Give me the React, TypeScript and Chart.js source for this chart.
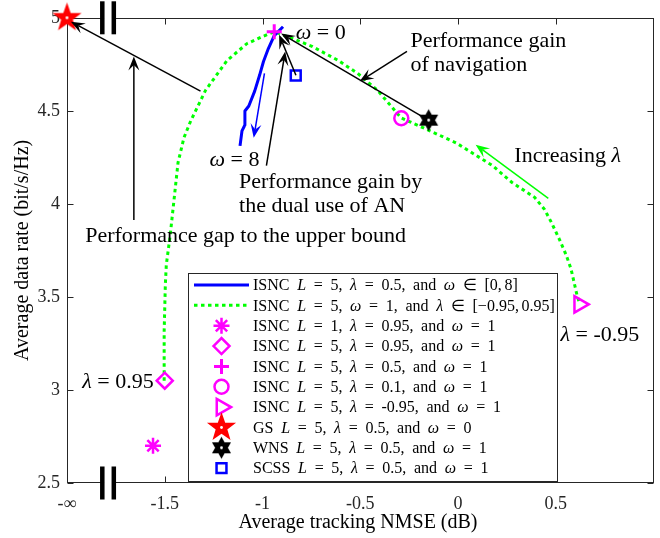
import React, { useEffect, useRef } from 'react';
import { Chart, registerables } from 'chart.js';
import { drawPoint } from 'chart.js/helpers';

Chart.register(...registerables);

const SERIF = '"Liberation Serif", "Times New Roman", Times, serif';
const MAGENTA = '#ff00ff';
const AXIS = '#262626';

// ISNC, L = 5, λ = 0.5, ω swept from 0 to 8 (NMSE in dB, rate in bit/s/Hz)
const omegaSweepNmse = [-0.895, -0.94, -0.97, -0.995, -1.015, -1.04, -1.07, -1.09, -1.09, -1.105, -1.115];
const omegaSweepRate = [4.952, 4.904, 4.835, 4.765, 4.691, 4.606, 4.526, 4.499, 4.424, 4.392, 4.312];

// ISNC, L = 5, ω = 1, λ swept from 0.95 down to -0.95
const lambdaSweepNmse = [
  -1.503, -1.503, -1.497, -1.492, -1.472, -1.432, -1.402, -1.367, -1.291, -1.181, -1.08, -1.0, -0.94,
  -0.844, -0.744, -0.613, -0.513, -0.412, -0.291, -0.176, -0.01, 0.176, 0.276, 0.392, 0.442, 0.477,
  0.518, 0.553, 0.578, 0.593, 0.608, 0.623,
];
const lambdaSweepRate = [
  3.049, 3.316, 3.566, 3.673, 3.833, 4.222, 4.355, 4.446, 4.611, 4.771, 4.861, 4.899, 4.925,
  4.888, 4.845, 4.771, 4.701, 4.611, 4.462, 4.408, 4.328, 4.206, 4.115, 4.035, 3.971, 3.902,
  3.811, 3.726, 3.651, 3.582, 3.513, 3.459,
];

// Single operating points: ISNC variants, then the GS, WNS and SCSS baselines
const schemeNmse = [-1.56, -1.5, -0.94, -0.29, 0.62, -2.0, -0.15, -0.83];
const schemeRate = [2.7, 3.05, 4.925, 4.46, 3.46, 5.0, 4.45, 4.69];

// Legend text; $...$ marks italic math symbols, \u2009 is a thin math space
const seriesLabels = [
  'ISNC $L$ = 5, $λ$ = 0.5, and $ω$ ∈ [0,\u20098]',
  'ISNC $L$ = 5, $ω$ = 1, and $λ$ ∈ [−0.95,\u20090.95]',
  'ISNC $L$ = 1, $λ$ = 0.95, and $ω$ = 1',
  'ISNC $L$ = 5, $λ$ = 0.95, and $ω$ = 1',
  'ISNC $L$ = 5, $λ$ = 0.5, and $ω$ = 1',
  'ISNC $L$ = 5, $λ$ = 0.1, and $ω$ = 1',
  'ISNC $L$ = 5, $λ$ = -0.95, and $ω$ = 1',
  'GS $L$ = 5, $λ$ = 0.5, and $ω$ = 0',
  'WNS $L$ = 5, $λ$ = 0.5, and $ω$ = 1',
  'SCSS $L$ = 5, $λ$ = 0.5, and $ω$ = 1',
];

const xTickValues = [-2, -1.5, -1, -0.5, 0, 0.5];
const xTickLabels = ['-∞', '-1.5', '-1', '-0.5', '0', '0.5'];
const yTickValues = [2.5, 3, 3.5, 4, 4.5, 5];
const yTickLabels = ['2.5', '3', '3.5', '4', '4.5', '5'];

const xTitle = 'Average tracking NMSE (dB)';
const yTitle = 'Average data rate (bit/s/Hz)';

// Text annotations in data coordinates (left end of the baseline)
const notes = [
  { text: '$ω$ = 0', x: -0.83, y: 4.888 },
  { text: '$ω$ = 8', x: -1.271, y: 4.206 },
  { text: 'Performance gain by', x: -1.12, y: 4.088 },
  { text: 'the dual use of AN', x: -1.12, y: 3.955 },
  { text: 'Performance gap to the upper bound', x: -1.907, y: 3.795 },
  { text: 'Performance gain', x: -0.243, y: 4.845 },
  { text: 'of navigation', x: -0.243, y: 4.712 },
  { text: 'Increasing $λ$', x: 0.288, y: 4.227 },
  { text: '$λ$ = 0.95', x: -1.922, y: 3.012 },
  { text: '$λ$ = -0.95', x: 0.524, y: 3.262 },
];

// Annotation arrows in data coordinates, head at the "to" end
const arrows = [
  { from: [-0.829, 4.691], to: [-0.915, 4.909], color: '#000000' },
  { from: [-0.98, 4.206], to: [-0.884, 4.819], color: '#000000' },
  { from: [-0.161, 4.456], to: [-0.905, 4.915], color: '#000000' },
  { from: [-0.261, 4.819], to: [-0.503, 4.659], color: '#000000' },
  { from: [-1.317, 4.606], to: [-1.98, 4.979], color: '#000000' },
  { from: [-1.658, 3.913], to: [-1.658, 4.792], color: '#000000' },
  { from: [-0.99, 4.701], to: [-1.045, 4.355], color: '#0000ff' },
  { from: [0.462, 4.03], to: [0.09, 4.318], color: '#00ff00' },
];

// x position of the axis break between -∞ and the finite range
const axisBreakAt = -1.79;

function serif(size: number, italic: boolean) {
  return `${italic ? 'italic ' : ''}${size}px ${SERIF}`;
}

// Draws text with $italic$ segments; spaceEm widens the blanks (math-style spacing)
function drawRich(
  ctx: CanvasRenderingContext2D,
  markup: string,
  x: number,
  y: number,
  size: number,
  spaceEm?: number,
) {
  const parts = markup.split('$');
  let cx = x;
  parts.forEach((p, i) => {
    if (!p) return;
    ctx.font = serif(size, i % 2 === 1);
    if (spaceEm === undefined) {
      ctx.fillText(p, cx, y);
      cx += ctx.measureText(p).width;
      return;
    }
    const words = p.split(' ');
    words.forEach((w, k) => {
      if (k > 0) cx += spaceEm * size;
      if (!w) return;
      const pieces = w.split('\u2009');
      pieces.forEach((piece, j) => {
        if (j > 0) cx += 0.17 * size;
        if (!piece) return;
        ctx.fillText(piece, cx, y);
        cx += ctx.measureText(piece).width;
      });
    });
  });
}

function makeStar(points: number, outer: number, inner: number, color: string, lw: number) {
  const size = Math.ceil(outer * 2 + lw * 3);
  const c = document.createElement('canvas');
  c.width = size;
  c.height = size;
  const g = c.getContext('2d')!;
  const cx = size / 2;
  const cy = size / 2;
  g.beginPath();
  for (let k = 0; k < points * 2; k++) {
    const r = k % 2 === 0 ? outer : inner;
    const a = -Math.PI / 2 + (k * Math.PI) / points;
    const px = cx + r * Math.cos(a);
    const py = cy + r * Math.sin(a);
    if (k === 0) g.moveTo(px, py);
    else g.lineTo(px, py);
  }
  g.closePath();
  g.lineJoin = 'miter';
  g.lineWidth = lw;
  g.strokeStyle = color;
  g.fillStyle = color;
  g.fill();
  g.stroke();
  // the thick outline leaves only a small hollow in the middle
  g.fillStyle = '#ffffff';
  g.beginPath();
  g.arc(cx, cy, 1.4, 0, Math.PI * 2);
  g.fill();
  return c;
}

function drawArrow(ctx: CanvasRenderingContext2D, x1: number, y1: number, x2: number, y2: number, color: string) {
  const a = Math.atan2(y2 - y1, x2 - x1);
  const len = 14;
  const half = 5.5;
  const notch = len * 0.6;
  const cos = Math.cos(a);
  const sin = Math.sin(a);
  ctx.save();
  ctx.strokeStyle = color;
  ctx.fillStyle = color;
  ctx.lineWidth = 1.5;
  ctx.beginPath();
  ctx.moveTo(x1, y1);
  ctx.lineTo(x2 - cos * notch, y2 - sin * notch);
  ctx.stroke();
  const bx = x2 - cos * len;
  const by = y2 - sin * len;
  ctx.beginPath();
  ctx.moveTo(x2, y2);
  ctx.lineTo(bx - sin * half, by + cos * half);
  ctx.lineTo(x2 - cos * notch, y2 - sin * notch);
  ctx.lineTo(bx + sin * half, by - cos * half);
  ctx.closePath();
  ctx.fill();
  ctx.restore();
}

const decorPlugin = {
  id: 'figureDecor',
  beforeDatasetsDraw(chart: any) {
    const { ctx, chartArea: a } = chart;
    const xs = chart.scales.x;
    const ys = chart.scales.y;
    ctx.save();
    ctx.strokeStyle = AXIS;
    ctx.lineWidth = 1;
    const L = Math.round(a.left) + 0.5;
    const R = Math.round(a.right) - 0.5;
    const T = Math.round(a.top) + 0.5;
    const B = Math.round(a.bottom) - 0.5;
    ctx.strokeRect(L, T, R - L, B - T);
    const tl = 6;
    ctx.beginPath();
    xTickValues.forEach((v) => {
      const p = Math.round(xs.getPixelForValue(v)) + 0.5;
      ctx.moveTo(p, B);
      ctx.lineTo(p, B - tl);
      ctx.moveTo(p, T);
      ctx.lineTo(p, T + tl);
    });
    yTickValues.forEach((v) => {
      const p = Math.round(ys.getPixelForValue(v)) + 0.5;
      ctx.moveTo(L, p);
      ctx.lineTo(L + tl, p);
      ctx.moveTo(R, p);
      ctx.lineTo(R - tl, p);
    });
    ctx.stroke();
    ctx.restore();
  },
  afterDatasetsDraw(chart: any) {
    const { ctx, chartArea: a } = chart;
    const xs = chart.scales.x;
    const ys = chart.scales.y;
    const px = (v: number) => xs.getPixelForValue(v);
    const py = (v: number) => ys.getPixelForValue(v);

    ctx.save();
    // arrows
    arrows.forEach((ar) => {
      drawArrow(ctx, px(ar.from[0]), py(ar.from[1]), px(ar.to[0]), py(ar.to[1]), ar.color);
    });

    // annotation text
    ctx.fillStyle = '#000';
    ctx.textBaseline = 'alphabetic';
    ctx.textAlign = 'left';
    notes.forEach((n) => drawRich(ctx, n.text, px(n.x), py(n.y), 22));

    // axis break marks on the top and bottom edges
    const bx = px(axisBreakAt);
    [a.top, a.bottom].forEach((ey) => {
      ctx.fillStyle = '#ffffff';
      ctx.fillRect(bx - 4, ey - 2, 8, 4);
      ctx.fillStyle = '#000000';
      ctx.fillRect(bx - 8, ey - 16.5, 4.5, 33);
      ctx.fillRect(bx + 3.5, ey - 16.5, 4.5, 33);
    });

    // legend box
    const lx0 = 188.5;
    const ly0 = 273.5;
    const lx1 = 557.5;
    const ly1 = Math.round(a.bottom) - 1.5;
    ctx.fillStyle = '#ffffff';
    ctx.fillRect(lx0, ly0, lx1 - lx0, ly1 - ly0);
    ctx.strokeStyle = AXIS;
    ctx.lineWidth = 1;
    ctx.strokeRect(lx0, ly0, lx1 - lx0, ly1 - ly0);

    const rowY0 = 285;
    const rowStep = 20.35;
    const sampleL = 194;
    const sampleR = 249;
    const textX = 253;
    chart.data.datasets.forEach((ds: any, i: number) => {
      const y = rowY0 + i * rowStep;
      if (ds.showLine) {
        ctx.save();
        ctx.strokeStyle = ds.borderColor;
        ctx.lineWidth = ds.borderWidth;
        ctx.setLineDash(ds.borderDash || []);
        ctx.lineCap = 'butt';
        ctx.beginPath();
        ctx.moveTo(sampleL, y);
        ctx.lineTo(sampleR, y);
        ctx.stroke();
        ctx.restore();
      } else {
        ctx.save();
        ctx.strokeStyle = ds.pointBorderColor;
        ctx.fillStyle = 'rgba(0,0,0,0)';
        ctx.lineWidth = ds.pointBorderWidth;
        drawPoint(ctx, {
          pointStyle: ds.pointStyle,
          rotation: ds.pointRotation || 0,
          radius: ds.pointRadius,
          borderWidth: ds.pointBorderWidth,
        } as any, (sampleL + sampleR) / 2, y);
        ctx.restore();
      }
      ctx.fillStyle = '#000';
      ctx.textBaseline = 'middle';
      drawRich(ctx, ds.label, textX, y + 1, 16, 0.48);
    });

    // axis titles
    ctx.fillStyle = '#000';
    ctx.textAlign = 'center';
    ctx.textBaseline = 'alphabetic';
    ctx.font = serif(20, false);
    ctx.fillText(xTitle, 358, 528);
    ctx.save();
    ctx.translate(28, (a.top + a.bottom) / 2);
    ctx.rotate(-Math.PI / 2);
    ctx.fillText(yTitle, 0, 0);
    ctx.restore();
    ctx.restore();
  },
};

export default function App() {
  const ref = useRef<HTMLCanvasElement | null>(null);

  useEffect(() => {
    if (!ref.current) return;
    const pentagram = makeStar(5, 11.5, 4.6, '#ff0000', 2.5);
    const hexagram = makeStar(6, 8.5, 4.9, '#000000', 2.5);

    const markerStyles: any[] = [
      { pointStyle: 'star', pointRadius: 8, pointBorderWidth: 2.5, color: MAGENTA },
      { pointStyle: 'rectRot', pointRadius: 8, pointBorderWidth: 2.5, color: MAGENTA },
      { pointStyle: 'cross', pointRadius: 7.5, pointBorderWidth: 3, color: MAGENTA },
      { pointStyle: 'circle', pointRadius: 7, pointBorderWidth: 2.5, color: MAGENTA },
      { pointStyle: 'triangle', pointRadius: 9.5, pointBorderWidth: 2.5, color: MAGENTA, pointRotation: 90 },
      { pointStyle: pentagram, pointRadius: 12, pointBorderWidth: 2.5, color: '#ff0000' },
      { pointStyle: hexagram, pointRadius: 9, pointBorderWidth: 2.5, color: '#000000' },
      { pointStyle: 'rect', pointRadius: 7, pointBorderWidth: 2.5, color: '#0000ff' },
    ];

    const datasets: any[] = [
      {
        label: seriesLabels[0],
        data: omegaSweepNmse.map((x, i) => ({ x, y: omegaSweepRate[i] })),
        showLine: true,
        borderColor: '#0000ff',
        borderWidth: 3,
        pointRadius: 0,
        borderJoinStyle: 'round',
        order: 10,
      },
      {
        label: seriesLabels[1],
        data: lambdaSweepNmse.map((x, i) => ({ x, y: lambdaSweepRate[i] })),
        showLine: true,
        borderColor: '#00ff00',
        borderWidth: 3,
        borderDash: [3.5, 3.5],
        borderCapStyle: 'butt',
        pointRadius: 0,
        order: 11,
      },
      ...markerStyles.map((m, i) => ({
        label: seriesLabels[i + 2],
        data: [{ x: schemeNmse[i], y: schemeRate[i] }],
        showLine: false,
        pointStyle: m.pointStyle,
        pointRadius: m.pointRadius,
        pointRotation: m.pointRotation || 0,
        pointBorderWidth: m.pointBorderWidth,
        pointBorderColor: m.color,
        pointBackgroundColor: 'rgba(0,0,0,0)',
        borderColor: m.color,
        backgroundColor: 'rgba(0,0,0,0)',
        clip: false,
        order: 8 - i,
      })),
    ];

    const tickFont = { family: SERIF, size: 18 };
    const chart = new Chart(ref.current, {
      type: 'scatter',
      data: { datasets },
      options: {
        animation: false,
        responsive: false,
        devicePixelRatio: 1,
        events: [],
        layout: { padding: { top: 14, right: 4, left: 0, bottom: 0 } },
        plugins: { legend: { display: false }, tooltip: { enabled: false } },
        scales: {
          x: {
            type: 'linear',
            min: -2,
            max: 1,
            afterBuildTicks: (s: any) => {
              s.ticks = xTickValues.map((value) => ({ value }));
            },
            afterFit: (s: any) => {
              s.height = 55;
            },
            grid: { display: false, drawTicks: false },
            border: { display: false },
            ticks: {
              font: tickFont,
              color: AXIS,
              padding: 10,
              maxRotation: 0,
              autoSkip: false,
              callback: (v: any) => xTickLabels[xTickValues.indexOf(Number(v))] ?? '',
            },
          },
          y: {
            type: 'linear',
            min: 2.5,
            max: 5,
            afterBuildTicks: (s: any) => {
              s.ticks = yTickValues.map((value) => ({ value }));
            },
            afterFit: (s: any) => {
              s.width = 67;
            },
            grid: { display: false, drawTicks: false },
            border: { display: false },
            ticks: {
              font: tickFont,
              color: AXIS,
              padding: 7,
              autoSkip: false,
              callback: (v: any) => yTickLabels[yTickValues.indexOf(Number(v))] ?? '',
            },
          },
        },
      } as any,
      plugins: [decorPlugin],
    });
    return () => chart.destroy();
  }, []);

  return (
    <div
      style={{
        position: 'absolute',
        left: 0,
        top: 0,
        width: 660,
        height: 538,
        overflow: 'hidden',
        background: '#ffffff',
      }}
    >
      <canvas ref={ref} width={668} height={538} style={{ display: 'block', width: 668, height: 538 }} />
    </div>
  );
}
